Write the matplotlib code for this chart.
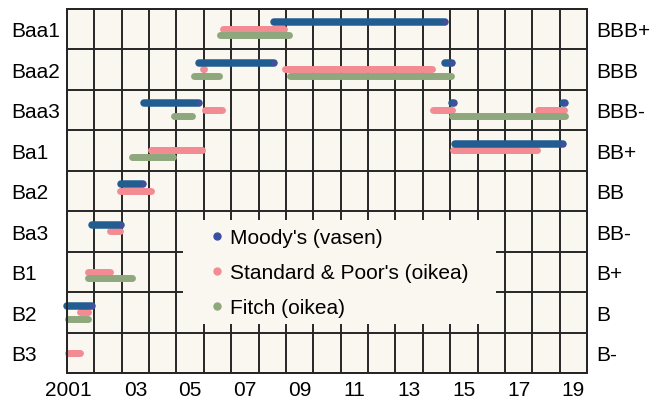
import matplotlib
matplotlib.use("Agg")
import matplotlib.pyplot as plt
from matplotlib.lines import Line2D
from matplotlib.patches import Rectangle
from matplotlib.transforms import ScaledTranslation

plt.rcParams['font.family'] = ['Liberation Sans', 'DejaVu Sans']

# Rating scales (bottom to top)
moodys_scale = ['B3', 'B2', 'B1', 'Ba3', 'Ba2', 'Ba1', 'Baa3', 'Baa2', 'Baa1']
sp_scale = ['B-', 'B', 'B+', 'BB-', 'BB', 'BB+', 'BBB-', 'BBB', 'BBB+']

# X tick labels (placed mid-year)
year_labels = ['2001', '03', '05', '07', '09', '11', '13', '15', '17', '19']
label_years = [2001, 2003, 2005, 2007, 2009, 2011, 2013, 2015, 2017, 2019]

# Moody's rating periods
moodys_start = [2001.00, 2001.91, 2002.97, 2003.80, 2005.84, 2008.55, 2014.80, 2015.08, 2015.16, 2019.13]
moodys_end = [2001.93, 2002.99, 2003.79, 2005.83, 2008.56, 2014.81, 2015.07, 2015.13, 2019.14, 2019.18]
moodys_rating = ['B2', 'Ba3', 'Ba2', 'Baa3', 'Baa2', 'Baa1', 'Baa2', 'Baa3', 'Ba1', 'Baa3']

# Standard & Poor's rating periods
sp_start = [2001.02, 2001.49, 2001.76, 2002.58, 2002.95, 2004.08, 2005.97, 2006.05, 2006.70, 2008.98, 2014.36, 2015.10, 2018.20]
sp_end = [2001.49, 2001.75, 2002.56, 2002.93, 2004.06, 2005.94, 2006.02, 2006.66, 2008.93, 2014.33, 2015.08, 2018.17, 2019.16]
sp_rating = ['B-', 'B', 'B+', 'BB-', 'BB', 'BB+', 'BBB', 'BBB-', 'BBB+', 'BBB', 'BBB-', 'BB+', 'BBB-']

# Fitch rating periods
fitch_start = [2001.02, 2001.76, 2003.39, 2004.92, 2005.63, 2006.60, 2009.14, 2015.07]
fitch_end = [2001.75, 2003.38, 2004.88, 2005.56, 2006.54, 2009.10, 2015.02, 2019.18]
fitch_rating = ['B', 'B+', 'BB+', 'BBB-', 'BBB', 'BBB+', 'BBB', 'BBB-']

legend_labels = ["Moody's (vasen)", "Standard & Poor's (oikea)", "Fitch (oikea)"]

BLUE = '#225d92'
PINK = '#f38b93'
GREEN = '#8ea77c'
DOT = '#4a4b9f'
BG = '#faf6f0'
GRID = '#262626'

fig = plt.figure(figsize=(6.52, 4.02), dpi=100)
ax = fig.add_axes([67/652, 1 - 374/402, 520/652, 364.5/402])
ax.set_facecolor(BG)
ax.set_xlim(2001, 2020)
ax.set_ylim(-0.5, 8.5)

OFF = 0.155

for s, e, r in zip(moodys_start, moodys_end, moodys_rating):
    y = moodys_scale.index(r) + OFF
    ax.plot([s, e], [y, y], color=BLUE, lw=5.4, solid_capstyle='round', zorder=4, clip_on=False)
    ax.plot([e], [y], 'o', color=DOT, ms=3.8, mec='none', zorder=5, clip_on=False)

for s, e, r in zip(sp_start, sp_end, sp_rating):
    y = sp_scale.index(r)
    ax.plot([s, e], [y, y], color=PINK, lw=5.0, solid_capstyle='round', zorder=3, clip_on=False)

for s, e, r in zip(fitch_start, fitch_end, fitch_rating):
    y = sp_scale.index(r) - OFF
    ax.plot([s, e], [y, y], color=GREEN, lw=5.0, solid_capstyle='round', zorder=3, clip_on=False)

# Grid: minor ticks at boundaries
years = list(range(2002, 2020))
ax.set_xticks(years, minor=True)
ax.set_yticks([i + 0.5 for i in range(len(moodys_scale) - 1)], minor=True)
ax.grid(which='minor', color=GRID, lw=1.4)
ax.set_axisbelow(True)
ax.tick_params(which='both', length=0)

# X labels mid-year
ax.set_xticks([y + 0.5 for y in label_years])
ax.set_xticklabels([''] + year_labels[1:], fontsize=15)
ax.tick_params(axis='x', pad=5)
ax.text(label_years[0] + 0.5, 0, year_labels[0], fontsize=15, ha='center', va='top',
        transform=ax.get_xaxis_transform() + ScaledTranslation(-12/100, -7.1/100, fig.dpi_scale_trans))

# Left labels
ax.set_yticks(range(len(moodys_scale)))
ax.set_yticklabels(moodys_scale, fontsize=15)
ax.tick_params(axis='y', pad=40.3)
for lab in ax.get_yticklabels():
    lab.set_horizontalalignment('left')

# Right labels
ax2 = ax.twinx()
ax2.set_ylim(ax.get_ylim())
ax2.set_yticks(range(len(sp_scale)))
ax2.set_yticklabels(sp_scale, fontsize=15)
ax2.tick_params(axis='y', length=0, pad=7)

for a in (ax, ax2):
    for sp in a.spines.values():
        sp.set_color(GRID)
        sp.set_linewidth(1.4)

# Legend background box hiding grid
ax.add_patch(Rectangle(((183-67)/520, (374-325)/364.5), (496-183)/520, (325-221)/364.5,
                       transform=ax.transAxes, facecolor=BG, edgecolor='none', zorder=2))

handles = [Line2D([], [], marker='o', ls='none', color=c, ms=5) for c in ['#3a4fa0', PINK, GREEN]]
leg = ax.legend(handles, legend_labels, loc='upper left',
                bbox_to_anchor=((207-67)/520, (374-229)/364.5), frameon=False,
                fontsize=15, handlelength=1.0, handletextpad=0.1, labelspacing=0.78,
                borderpad=0, borderaxespad=0)
leg.set_zorder(6)

fig.savefig('out.png', dpi=100, facecolor='white')
